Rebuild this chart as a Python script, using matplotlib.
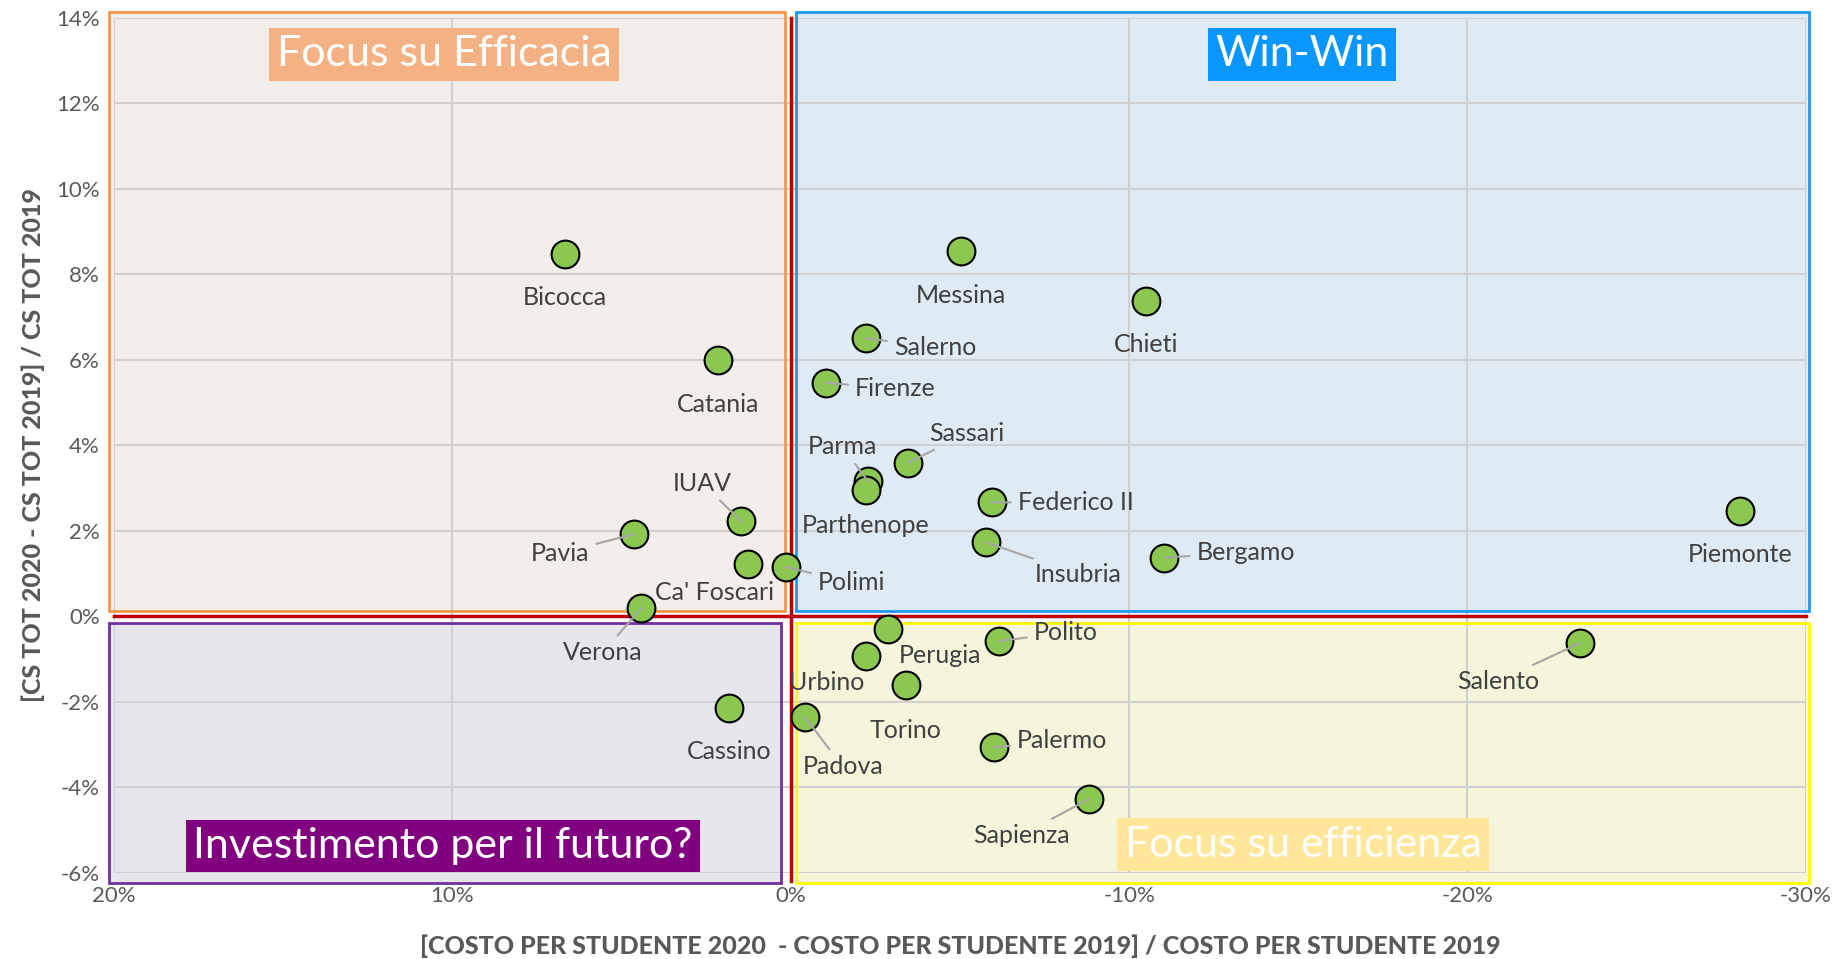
import matplotlib
matplotlib.use("Agg")
import matplotlib.pyplot as plt
from matplotlib.patches import Rectangle
from matplotlib.ticker import FuncFormatter, MultipleLocator

plt.rcParams['font.family'] = ['Lato', 'DejaVu Sans']

# Data (% values)
atenei = ['Bicocca', 'Catania', 'IUAV', 'Pavia', "Ca' Foscari", 'Verona', 'Polimi',
          'Cassino', 'Messina', 'Chieti', 'Salerno', 'Firenze', 'Sassari', 'Parma',
          'Parthenope', 'Federico II', 'Insubria', 'Bergamo', 'Piemonte', 'Urbino',
          'Perugia', 'Torino', 'Polito', 'Salento', 'Padova', 'Palermo', 'Sapienza']
costo = [6.67, 2.15, 1.46, 4.62, 1.25, 4.41, 0.14,
         1.81, -5.03, -10.49, -2.22, -1.04, -3.47, -2.29,
         -2.22, -5.94, -5.76, -11.04, -28.06, -2.88,
         -2.22, -3.40, -6.15, -23.33, -0.42, -6.01, -8.82]
cs_tot = [8.48, 5.98, 2.22, 1.92, 1.23, 0.19, 1.15,
          -2.14, 8.53, 7.38, 6.50, 5.46, 3.59, 3.15,
          2.94, 2.66, 1.73, 1.37, 2.47, -0.30,
          -0.93, -1.62, -0.58, -0.63, -2.36, -3.07, -4.28]

# label placement: offset in pixels, horizontal alignment, leader line
label_pos = {
    'Bicocca': (0, -44, 'center', False), 'Catania': (0, -44, 'center', False),
    'Cassino': (0, -44, 'center', False), 'Messina': (0, -44, 'center', False),
    'Chieti': (0, -44, 'center', False), 'Piemonte': (0, -44, 'center', False),
    'Torino': (0, -45, 'center', False), 'Parthenope': (0, -35, 'center', False),
    "Ca' Foscari": (-34, -29, 'center', False), 'Urbino': (-61, -54, 'center', False),
    'IUAV': (-39, 38, 'center', True), 'Pavia': (-74, -19, 'center', True),
    'Verona': (-39, -45, 'center', True), 'Parma': (-26, 35, 'center', True),
    'Salento': (-82, -38, 'center', True), 'Sapienza': (-68, -36, 'center', True),
    'Padova': (38, -50, 'center', True),
    'Salerno': (28, -9, 'left', True), 'Firenze': (29, -6, 'left', True),
    'Federico II': (26, 0, 'left', True), 'Bergamo': (32, 5, 'left', True),
    'Polimi': (32, -16, 'left', True), 'Polito': (35, 8, 'left', True),
    'Palermo': (23, 7, 'left', True), 'Perugia': (33, 0, 'left', False),
    'Insubria': (49, -32, 'left', True), 'Sassari': (21, 29, 'left', True),
}

# quadrants: x0, x1, y0, y1, edge, fill, title, title bg, title pos
quadranti = [
    (20.14, 0.17, 0.11, 14.14, '#F79646', '#F3EEE9', 'Focus su Efficacia', '#F4B183', (10.24, 13.14)),
    (-0.17, -30.1, 0.11, 14.14, '#2196F3', '#DEEBF5', 'Win-Win', '#0A96FF', (-15.1, 13.14)),
    (20.14, 0.28, -6.25, -0.16, '#7030A0', '#E8E6EC', 'Investimento per il futuro?', '#800080', (10.28, -5.38)),
    (-0.17, -30.1, -6.25, -0.16, '#FFFF00', '#F5F5DC', 'Focus su efficienza', '#FFE699', (-15.14, -5.35)),
]

fig = plt.figure(figsize=(18.39, 9.59), dpi=100)
ax = fig.add_axes([0.0619, 0.0901, 0.9201, 0.8915])
ax.set_xlim(20, -30)
ax.set_ylim(-6, 14)
ax.xaxis.set_major_locator(MultipleLocator(10))
ax.yaxis.set_major_locator(MultipleLocator(2))
ax.xaxis.set_major_formatter(FuncFormatter(lambda v, p: f'{v:.0f}%'))
ax.yaxis.set_major_formatter(FuncFormatter(lambda v, p: f'{v:.0f}%'))
ax.tick_params(length=0, labelsize=16, labelcolor='#595959', pad=10)
for s in ax.spines.values():
    s.set_visible(False)
ax.set_axisbelow(True)
ax.grid(True, color='#D0D0D0', linewidth=1.5)

for x0, x1, y0, y1, ec, fc, title, tbg, (tx, ty) in quadranti:
    ax.add_patch(Rectangle((x0, y0), x1 - x0, y1 - y0, facecolor=fc, edgecolor='none',
                           zorder=0.2, clip_on=False))
    ax.add_patch(Rectangle((x0, y0), x1 - x0, y1 - y0, facecolor='none', edgecolor=ec,
                           linewidth=2, zorder=3, clip_on=False))
    ax.text(tx, ty, title, fontsize=31, color='white', ha='center', va='center', zorder=6,
            bbox=dict(boxstyle='square,pad=0.17', facecolor=tbg, edgecolor='none'))

# red axis lines
ax.plot([0, 0], [-6.2, 14], color='#C00000', linewidth=2.5, zorder=2.5, clip_on=False)
ax.plot([20, -30], [0, 0], color='#C00000', linewidth=2.5, zorder=2.5, clip_on=False)

ax.scatter(costo, cs_tot, s=400, color='#8CC751', edgecolor='black', linewidth=1.5, zorder=4)

for nome, x, y in zip(atenei, costo, cs_tot):
    dx, dy, ha, leader = label_pos[nome]
    arrow = dict(arrowstyle='-', color='#A6A6A6', linewidth=1.5, shrinkA=3, shrinkB=0) if leader else None
    ax.annotate(nome, (x, y), xytext=(dx, dy), textcoords='offset pixels',
                ha=ha, va='center', fontsize=18, color='#404040', zorder=5,
                arrowprops=arrow)

ax.set_xlabel('[COSTO PER STUDENTE 2020  - COSTO PER STUDENTE 2019] / COSTO PER STUDENTE 2019',
              fontsize=18, fontweight='black', color='#595959', labelpad=20)
ax.set_ylabel('[CS TOT 2020 - CS TOT 2019] / CS TOT 2019',
              fontsize=18, fontweight='black', color='#595959', labelpad=8)

fig.savefig('out.png', dpi=100)
